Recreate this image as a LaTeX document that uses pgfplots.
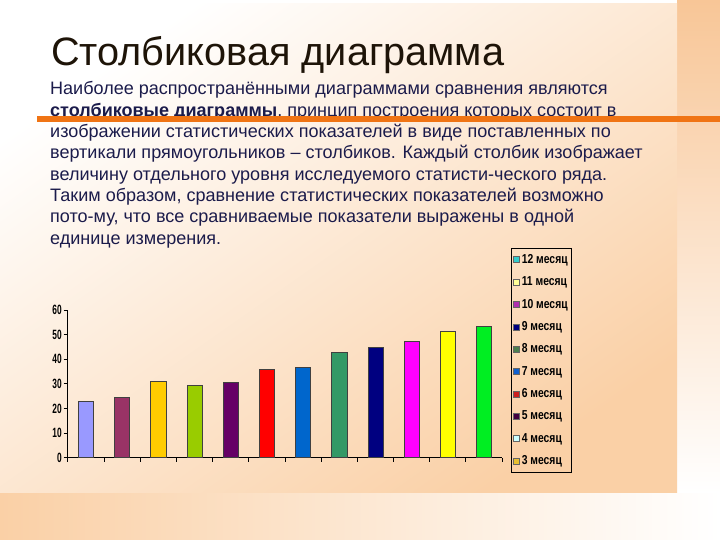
\documentclass[border=0pt]{standalone}
\usepackage{pgfplots}
\pgfplotsset{compat=1.18}
\usepackage{fontspec}
\setmainfont{Liberation Sans}
\newfontfamily\narrow[FakeStretch=0.62]{Liberation Sans}
\newfontfamily\legnarrow[FakeStretch=0.8]{Liberation Sans}
\definecolor{peach}{HTML}{FAD0A6}
\definecolor{peachR}{HTML}{F8C697}
\definecolor{orangeline}{HTML}{F07414}
\definecolor{txt}{HTML}{1B1B4B}
\definecolor{ttl}{HTML}{1E1408}
% bar colours
\definecolor{b1}{HTML}{9999FF}
\definecolor{b2}{HTML}{993366}
\definecolor{b3}{HTML}{FFCC00}
\definecolor{b4}{HTML}{99CC00}
\definecolor{b5}{HTML}{660066}
\definecolor{b6}{HTML}{FF0000}
\definecolor{b7}{HTML}{0066CC}
\definecolor{b8}{HTML}{339966}
\definecolor{b9}{HTML}{000080}
\definecolor{b10}{HTML}{FF00FF}
\definecolor{b11}{HTML}{FFFF00}
\definecolor{b12}{HTML}{00EE22}
% legend colours
\definecolor{l12}{HTML}{33CCCC}
\definecolor{l11}{HTML}{FFFF99}
\definecolor{l10}{HTML}{B030B0}
\definecolor{l9}{HTML}{000080}
\definecolor{l8}{HTML}{4C8050}
\definecolor{l7}{HTML}{1060D0}
\definecolor{l6}{HTML}{CC2020}
\definecolor{l5}{HTML}{400040}
\definecolor{l4}{HTML}{CCFFFF}
\definecolor{l3}{HTML}{E8C030}
\begin{document}
\begin{tikzpicture}[x=1bp,y=1bp]
% ---------- background ----------
\fill[white] (0,0) rectangle (720,540);
\shade[left color=peach, right color=white] (0,0) rectangle (720,47);
\shade[top color=peachR, bottom color=white] (677,47) rectangle (720,540);
\shade[top color=white, middle color=white!75!peach, bottom color=peach, shading angle=35] (0,47) rectangle (677,536);
% ---------- title and text ----------
\node[anchor=base west, inner sep=0, text=ttl, font=\fontsize{39.8}{39.8}\selectfont] at (51,474) {Столбиковая диаграмма};
\begin{scope}[every node/.style={anchor=base west, inner sep=0, text=txt, font=\fontsize{18.1}{21}\selectfont}]
\node at (50,445.0) {Наиболее распространёнными диаграммами сравнения являются};
\node at (50,423.9) {\textbf{столбиковые диаграммы}, принцип построения которых состоит в};
\node at (50,402.4) {изображении статистических показателей в виде поставленных по};
\node at (50,381.1) {вертикали прямоугольников – столбиков. Каждый столбик изображает};
\node at (50,359.8) {величину отдельного уровня исследуемого статисти-ческого ряда.};
\node at (50,338.5) {Таким образом, сравнение статистических показателей возможно};
\node at (50,317.2) {пото-му, что все сравниваемые показатели выражены в одной};
\node at (50,295.9) {единице измерения.};
\end{scope}
\fill[orangeline] (37,418) rectangle (720,423.6);
% ---------- chart ----------
\begin{axis}[
  scale only axis, width=434.3bp, height=147.7bp,
  at={(67.7bp,82.3bp)}, anchor=south west,
  xmin=-0.5, xmax=11.5, ymin=0, ymax=60,
  axis x line*=bottom, axis y line*=left,
  axis line style={-, black, line width=0.9pt},
  xtick={-0.5,0.5,...,11.5}, xticklabels={},
  ytick={0,10,...,60},
  tick align=outside, major tick length=4bp,
  tick style={black, line width=0.7pt},
  yticklabel style={font=\narrow\bfseries\fontsize{13.5}{13.5}\selectfont, /pgf/number format/assume math mode=true, xshift=1.5bp},
  legend style={at={(1.0207,1.4198)}, anchor=north west, draw=black, line width=0.8pt, fill=none,
    font=\legnarrow\bfseries\fontsize{13}{13}\selectfont, row sep=7.9bp, inner ysep=4bp, inner xsep=2bp},
  legend cell align=left,
  legend image code/.code={\draw[#1, line width=0.4pt] (1bp,-3bp) rectangle (7bp,3bp);},
]
\addplot[ybar, bar width=0.42, bar shift=0pt, fill=b1, draw=black!75, forget plot] coordinates {(0,22.9)};
\addplot[ybar, bar width=0.42, bar shift=0pt, fill=b2, draw=black!75, forget plot] coordinates {(1,24.5)};
\addplot[ybar, bar width=0.42, bar shift=0pt, fill=b3, draw=black!75, forget plot] coordinates {(2,31.0)};
\addplot[ybar, bar width=0.42, bar shift=0pt, fill=b4, draw=black!75, forget plot] coordinates {(3,29.4)};
\addplot[ybar, bar width=0.42, bar shift=0pt, fill=b5, draw=black!75, forget plot] coordinates {(4,30.6)};
\addplot[ybar, bar width=0.42, bar shift=0pt, fill=b6, draw=black!75, forget plot] coordinates {(5,35.9)};
\addplot[ybar, bar width=0.42, bar shift=0pt, fill=b7, draw=black!75, forget plot] coordinates {(6,36.9)};
\addplot[ybar, bar width=0.42, bar shift=0pt, fill=b8, draw=black!75, forget plot] coordinates {(7,43.0)};
\addplot[ybar, bar width=0.42, bar shift=0pt, fill=b9, draw=black!75, forget plot] coordinates {(8,44.9)};
\addplot[ybar, bar width=0.42, bar shift=0pt, fill=b10, draw=black!75, forget plot] coordinates {(9,47.3)};
\addplot[ybar, bar width=0.42, bar shift=0pt, fill=b11, draw=black!75, forget plot] coordinates {(10,51.4)};
\addplot[ybar, bar width=0.42, bar shift=0pt, fill=b12, draw=black!75, forget plot] coordinates {(11,53.5)};
\addlegendimage{fill=l12, draw=black!60}\addlegendentry{12 месяц}
\addlegendimage{fill=l11, draw=black!60}\addlegendentry{11 месяц}
\addlegendimage{fill=l10, draw=black!60}\addlegendentry{10 месяц}
\addlegendimage{fill=l9, draw=black!60}\addlegendentry{9 месяц}
\addlegendimage{fill=l8, draw=black!60}\addlegendentry{8 месяц}
\addlegendimage{fill=l7, draw=black!60}\addlegendentry{7 месяц}
\addlegendimage{fill=l6, draw=black!60}\addlegendentry{6 месяц}
\addlegendimage{fill=l5, draw=black!60}\addlegendentry{5 месяц}
\addlegendimage{fill=l4, draw=black!60}\addlegendentry{4 месяц}
\addlegendimage{fill=l3, draw=black!60}\addlegendentry{3 месяц}
\end{axis}
\pgfresetboundingbox
\useasboundingbox (0,0) rectangle (720,540);
\end{tikzpicture}
\end{document}
